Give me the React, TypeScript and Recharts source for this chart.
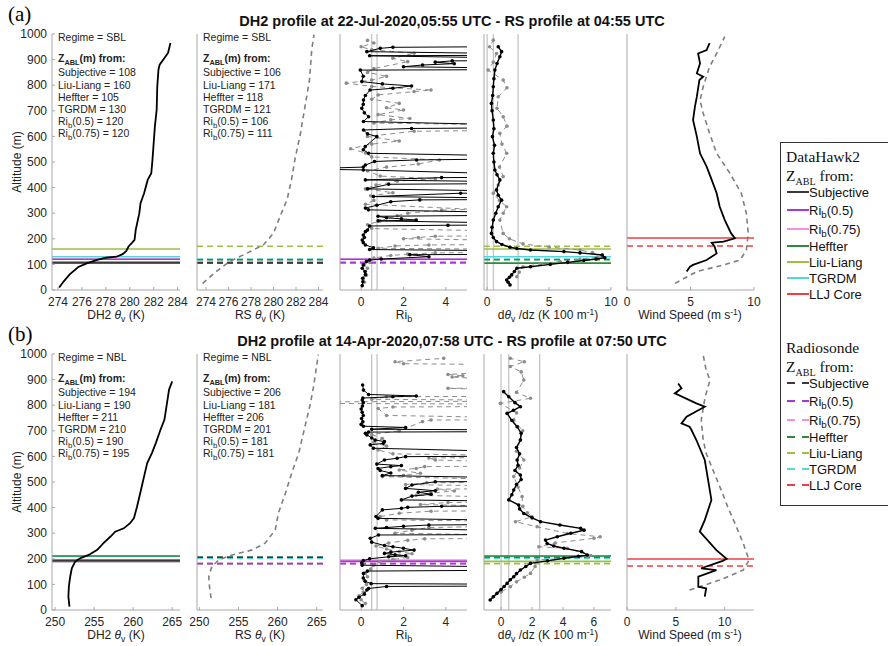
import React from "react";
import { ScatterChart, Scatter, XAxis, YAxis, ReferenceLine } from "recharts";

type Pt = [number, number]; // [value, altitude m]

const altTicks = [0, 100, 200, 300, 400, 500, 600, 700, 800, 900, 1000];
const methods = ["Subjective", "Liu-Liang", "Heffter", "TGRDM", "Rib(0.5)", "Rib(0.75)"];

// ---------- (a) 22-Jul-2020 ----------
const dh2ThetaA: Pt[] = [
  [274.1, 10], [274.5, 35], [275.0, 62], [275.7, 90], [276.4, 104], [277.2, 117], [278.0, 126],
  [278.9, 130], [279.4, 140], [279.7, 152], [279.9, 170], [280.2, 185], [280.4, 196], [280.5, 235],
  [280.8, 300], [280.9, 339], [281.2, 378], [281.5, 430], [281.8, 456], [281.9, 509], [282.0, 574],
  [282.1, 639], [282.25, 704], [282.3, 795], [282.4, 861], [282.5, 880], [282.9, 906], [283.2, 926],
  [283.4, 965],
];
const rsThetaA: Pt[] = [
  [273.7, 26], [274.9, 72], [276.1, 111], [277.6, 143], [279.1, 176], [280.0, 222], [280.7, 300],
  [281.2, 352], [281.6, 430], [281.9, 509], [282.4, 613], [282.8, 717], [283.2, 821], [283.4, 939],
  [283.6, 998],
];
const dh2RibA: Pt[] = [
  [0.05, 17], [0.08, 32], [0.07, 46], [0.2, 60], [0.18, 72], [0.05, 85], [0.1, 98], [0.25, 111],
  [0.4, 117], [0.95, 121], [3.2, 130], [2.3, 138], [12, 140], [12, 150], [0.4, 158], [0.58, 165],
  [0.2, 176], [0.1, 185], [0.05, 195], [0.15, 205], [0.1, 215], [0.2, 228], [0.3, 234], [0.4, 250],
  [4.1, 253], [12, 255], [0.8, 270], [2.6, 273], [1.9, 278], [1.2, 282], [0.8, 288], [12, 295],
  [0.34, 313], [0.2, 320], [0.74, 331], [1.4, 345], [2.77, 352], [12, 355], [0.58, 365], [4.7, 378],
  [12, 380], [0.3, 395], [1.3, 413], [12, 418], [0.2, 430], [3.8, 439], [12, 442], [0.1, 469],
  [-3, 473], [0.1, 480], [0.2, 488], [0.63, 502], [2.62, 508], [12, 517], [0.35, 534], [0.1, 548],
  [0.19, 560], [0.74, 599], [0.3, 610], [0.11, 625], [2.38, 631], [12, 636], [0.11, 658], [0.35, 677],
  [0.15, 692], [0.03, 710], [0.1, 725], [0.11, 742], [0.2, 760], [0.42, 781], [1.5, 788], [2.38, 797],
  [1.0, 805], [0.03, 814], [0.1, 835], [-0.04, 859], [12, 862], [2.0, 872], [2.9, 879], [4.4, 884],
  [3.5, 890], [4.3, 895], [12, 900], [0.4, 915], [12, 918], [0.27, 931], [0.9, 944], [1.5, 948],
  [12, 953],
];
const rsRibA: Pt[] = [
  [0.15, 30], [0.1, 45], [0.25, 58], [0.2, 72], [0.3, 85], [0.15, 98], [0.4, 108], [0.6, 125],
  [1.4, 135], [2.2, 140], [3.5, 145], [12, 150], [12, 156], [0.8, 163], [1.6, 172], [3.2, 176],
  [12, 180], [12, 188], [2.0, 200], [2.7, 205], [3.5, 210], [12, 215], [12, 222], [0.5, 240],
  [0.3, 255], [0.9, 270], [1.7, 290], [2.2, 300], [3.8, 312], [5.3, 315], [0.2, 335], [0.6, 350],
  [0.45, 368], [1.5, 380], [0.2, 395], [0.7, 410], [1.7, 425], [3.5, 435], [0.9, 445], [0.3, 465],
  [1.2, 480], [2.7, 492], [3.7, 508], [0.5, 520], [0.2, 535], [-0.5, 552], [0.5, 570], [1.8, 582],
  [0.3, 600], [2.5, 620], [12, 628], [12, 640], [0.6, 652], [1.4, 665], [2.3, 670], [0.8, 685],
  [2.0, 703], [1.2, 712], [1.8, 729], [0.5, 745], [0.8, 762], [2.5, 775], [3.3, 781], [0.5, 795],
  [-0.7, 808], [0.5, 820], [1.2, 835], [0.3, 850], [0.6, 865], [2.2, 892], [1.5, 905], [2.5, 925],
  [0.5, 938], [0.0, 950], [0.6, 965], [0.3, 975],
];
const dh2GradA: Pt[] = [
  [1.85, 20], [1.7, 30], [1.58, 39], [1.8, 50], [1.98, 59], [2.2, 72], [2.4, 85], [3.5, 91], [5.1, 100],
  [6.5, 108], [7.8, 115], [8.8, 121], [9.5, 126], [9.3, 137], [7.5, 145], [6.2, 150], [3.5, 156],
  [2.4, 162], [1.85, 167], [1.2, 178], [0.76, 189], [0.5, 205], [0.35, 221], [0.4, 245], [0.5, 273],
  [0.7, 300], [0.9, 325], [1.17, 351], [0.9, 370], [0.76, 391], [1.03, 430], [0.8, 450], [0.63, 469],
  [0.55, 500], [0.5, 534], [0.6, 565], [0.43, 599], [0.55, 630], [0.5, 664], [0.4, 700], [0.35, 729],
  [0.45, 760], [0.5, 794], [0.55, 825], [0.63, 859], [0.8, 885], [1.03, 911], [1.17, 931], [0.9, 950],
];
const rsGradA: Pt[] = [
  [2.4, 52], [2.6, 70], [2.9, 91], [4.3, 102], [5.9, 111], [7.5, 120], [8.9, 128], [9.3, 135],
  [8.5, 146], [7.5, 156], [5.0, 168], [2.9, 180], [1.8, 200], [1.3, 221], [1.03, 273], [1.3, 300],
  [1.58, 325], [1.0, 350], [0.5, 378], [0.9, 410], [1.3, 443], [1.0, 480], [1.58, 534], [1.2, 570],
  [1.03, 612], [1.6, 640], [1.3, 677], [0.8, 710], [0.9, 755], [1.6, 790], [1.3, 820], [0.08, 859],
  [0.5, 890], [0.76, 924], [0.2, 950], [0.5, 976],
];
const dh2WindA: Pt[] = [
  [4.7, 72], [4.96, 91], [5.2, 98], [6.27, 117], [7.06, 143], [6.9, 169], [6.67, 185], [7.6, 189],
  [8.5, 202], [8.2, 221], [7.7, 273], [7.3, 325], [7.06, 378], [6.67, 430], [6.27, 482], [5.75, 534],
  [5.5, 599], [5.2, 664], [5.35, 716], [5.5, 755], [5.7, 820], [6.0, 833], [5.5, 846], [5.75, 885],
  [5.6, 924], [6.27, 937], [6.5, 964],
];
const rsWindA: Pt[] = [
  [3.78, 26], [5.5, 72], [7.6, 98], [8.9, 117], [9.4, 156], [9.55, 221], [9.4, 299], [9.0, 378],
  [8.1, 456], [7.06, 534], [6.5, 612], [6.0, 690], [5.75, 742], [6.0, 794], [6.5, 872], [7.06, 924],
  [7.7, 990],
];
const dh2ZablA = [108, 160, 105, 130, 120, 120];
const rsZablA = [106, 171, 118, 121, 106, 111];
const lljA = [203, 172];

// ---------- (b) 14-Apr-2020 ----------
const dh2ThetaB: Pt[] = [
  [251.84, 13], [251.7, 52], [251.76, 91], [251.93, 130], [252.14, 163], [252.57, 189], [253.2, 202],
  [254.3, 215], [255.4, 235], [256.2, 261], [257.1, 287], [257.7, 306], [258.8, 319], [259.6, 339],
  [260.1, 359], [260.5, 404], [260.9, 456], [261.4, 522], [261.8, 574], [262.4, 613], [262.9, 652],
  [263.5, 704], [264.0, 743], [264.2, 782], [264.4, 822], [264.6, 861], [265.0, 893],
];
const rsThetaB: Pt[] = [
  [251.5, 46], [251.3, 91], [251.2, 130], [251.6, 170], [252.5, 196], [254.2, 215], [256.8, 235],
  [258.4, 261], [259.7, 313], [260.1, 378], [261.0, 456], [261.8, 535], [262.7, 613], [263.3, 691],
  [264.2, 808], [264.6, 874], [265.2, 998],
];
const dh2RibB: Pt[] = [
  [0.05, 17], [-0.25, 40], [-0.1, 50], [0.15, 62], [0.27, 78], [0.35, 84], [1.2, 92], [12, 95],
  [12, 99], [0.47, 103], [0.19, 112], [0.1, 125], [0.11, 143], [0.3, 152], [12, 158], [12, 164],
  [0.05, 175], [0.03, 185], [0.1, 193], [0.4, 200], [1.3, 208], [2.1, 212], [1.6, 216], [1.1, 221],
  [1.4, 226], [2.5, 234], [2.0, 241], [1.5, 247], [1.1, 252], [0.5, 265], [0.43, 280], [0.82, 293],
  [12, 296], [12, 304], [0.67, 319], [1.2, 322], [2.0, 327], [3.2, 332], [12, 337], [12, 344],
  [0.8, 358], [0.7, 365], [1.0, 391], [1.9, 397], [2.2, 401], [3.8, 405], [12, 410], [12, 420],
  [1.9, 430], [2.4, 445], [3.3, 452], [2.7, 460], [3.5, 466], [2.1, 475], [2.4, 488], [3.5, 501],
  [12, 503], [12, 510], [1.0, 525], [1.4, 535], [0.9, 545], [0.8, 553], [1.4, 560], [1.9, 564],
  [0.74, 570], [1.1, 586], [1.7, 593], [2.1, 599], [12, 603], [12, 609], [0.58, 632], [0.43, 645],
  [1.05, 651], [1.1, 658], [0.66, 664], [0.5, 672], [0.27, 684], [0.2, 690], [0.35, 695], [12, 698],
  [12, 702], [0.5, 706], [2.1, 713], [0.11, 718], [0.0, 725], [0.08, 735], [0.02, 748], [0.1, 760],
  [0.05, 772], [0.0, 785], [0.06, 797], [0.1, 810], [0.05, 820], [0.08, 828], [1.5, 833], [2.6, 836],
  [0.35, 842], [0.11, 859], [0.07, 879],
];
const rsRibB: Pt[] = [
  [0.2, 25], [0.0, 40], [-0.1, 55], [0.1, 70], [0.05, 85], [0.25, 100], [0.15, 115], [0.3, 130],
  [0.2, 145], [0.45, 160], [0.6, 175], [0.9, 188], [1.5, 198], [2.2, 205], [1.4, 212], [2.4, 220],
  [1.8, 228], [1.2, 238], [0.7, 250], [1.3, 262], [2.2, 272], [3.0, 278], [12, 281], [12, 286],
  [1.6, 300], [2.4, 312], [3.2, 322], [12, 336], [12, 342], [1.2, 352], [0.9, 365], [1.8, 378],
  [3.3, 386], [12, 390], [12, 396], [2.8, 412], [4.1, 420], [12, 426], [12, 432], [2.6, 448],
  [3.3, 457], [4.4, 465], [3.6, 472], [12, 478], [2.1, 490], [3.1, 497], [12, 500], [1.0, 521],
  [2.0, 526], [2.8, 534], [1.8, 547], [2.6, 553], [3.0, 560], [12, 565], [3.5, 586], [3.2, 594],
  [12, 598], [1.5, 610], [0.8, 625], [1.2, 640], [0.6, 655], [1.0, 670], [0.5, 685], [1.8, 700],
  [2.9, 736], [3.3, 742], [12, 745], [1.2, 760], [0.8, 787], [1.5, 793], [12, 797], [12, 803],
  [-2, 807], [-2, 813], [12, 817], [0.5, 823], [1.2, 833], [12, 836], [12, 846], [4.1, 866],
  [12, 870], [4.3, 910], [4.8, 915], [4.1, 920], [12, 955], [2.0, 962], [1.6, 970], [3.9, 983],
];
const dh2GradB: Pt[] = [
  [-0.7, 39], [-0.5, 52], [-0.26, 65], [0.0, 80], [0.2, 92], [0.39, 104], [0.6, 118], [0.82, 130],
  [1.0, 142], [1.25, 156], [1.6, 170], [1.9, 182], [3.0, 192], [4.06, 202], [5.0, 210], [5.57, 215],
  [5.2, 228], [4.06, 241], [3.4, 250], [2.98, 260], [2.87, 273], [3.63, 286], [4.5, 300], [5.36, 312],
  [5.14, 319], [3.8, 332], [2.55, 345], [2.0, 360], [1.47, 377], [1.2, 395], [1.14, 410], [0.5, 430],
  [0.7, 450], [0.82, 469], [1.0, 490], [1.3, 510], [1.25, 527], [0.9, 545], [1.1, 565], [1.04, 586],
  [1.2, 610], [1.0, 635], [1.25, 664], [1.3, 690], [1.04, 716], [0.7, 740], [0.39, 768], [0.8, 780],
  [1.25, 794], [0.9, 810], [0.5, 833], [0.17, 853],
];
const rsGradB: Pt[] = [
  [-0.48, 52], [0.0, 70], [0.6, 91], [1.0, 110], [1.5, 128], [1.9, 143], [2.2, 170], [2.33, 195],
  [5.57, 208], [5.8, 213], [4.28, 241], [2.44, 247], [3.5, 262], [6.0, 280], [6.4, 286], [4.28, 299],
  [2.33, 325], [0.93, 345], [2.0, 364], [1.7, 380], [1.4, 405], [1.36, 443], [1.1, 480], [0.82, 521],
  [1.2, 555], [1.47, 586], [1.0, 620], [1.25, 664], [1.4, 700], [0.82, 742], [1.0, 770], [-0.04, 807],
  [1.9, 827], [1.0, 850], [1.47, 898], [1.3, 930], [0.6, 951], [1.5, 970], [0.6, 983],
];
const dh2WindB: Pt[] = [
  [7.96, 52], [8.1, 84], [7.3, 91], [7.3, 130], [9.15, 156], [7.6, 163], [9.8, 192], [10.2, 200],
  [9.15, 234], [7.45, 306], [7.96, 351], [8.64, 430], [8.3, 508], [7.96, 586], [7.1, 664], [6.6, 703],
  [6.4, 716], [5.58, 729], [6.1, 755], [7.96, 794], [7.1, 807], [4.9, 846], [5.58, 866], [5.24, 885],
];
const rsWindB: Pt[] = [
  [6.4, 78], [9.5, 117], [11.9, 156], [12.5, 195], [11.9, 260], [11.2, 325], [10.3, 404], [9.5, 482],
  [8.8, 547], [8.1, 612], [7.8, 664], [7.6, 742], [8.0, 833], [8.5, 898], [8.1, 937], [7.8, 996],
];
const dh2ZablB = [194, 190, 211, 210, 190, 195];
const rsZablB = [206, 181, 206, 201, 181, 181];
const lljB = [199, 172];

const colors: Record<string, string> = {
  Subjective: "#3a3a3a",
  "Rib(0.5)": "#a23bd6",
  "Rib(0.75)": "#f392dc",
  Heffter: "#2e8b3e",
  "Liu-Liang": "#9cbf45",
  TGRDM: "#56d6d9",
  "LLJ Core": "#ef3e3e",
};

const FONT = "'Liberation Sans', Arial, Helvetica, sans-serif";
const SERIF = "'Liberation Serif', 'Times New Roman', serif";
const AXIS = "#a8a8a8";

type Curve = { data: Pt[]; color: string; dashed?: boolean; dots?: boolean; width?: number };
type HLine = { y: number; color: string; dashed?: boolean };

const noDot = () => <g />;
const makeDot = (c: string) => (p: any) => <circle cx={p.cx} cy={p.cy} r={1.8} fill={c} />;

// sub/superscripts that do not grow the line box
const Sub = ({ children, s = 0.72 }: { children: React.ReactNode; s?: number }) => (
  <span style={{ fontSize: `${s}em`, position: "relative", top: "0.35em", lineHeight: 0 }}>{children}</span>
);
const Sup = ({ children }: { children: React.ReactNode }) => (
  <span style={{ fontSize: "0.7em", position: "relative", top: "-0.45em", lineHeight: 0 }}>{children}</span>
);

function Panel({ x0, y0, w, domain, xTicks, curves, hlines, vlines = [], yLabels = false }: {
  x0: number; y0: number; w: number; domain: [number, number]; xTicks: number[];
  curves: Curve[]; hlines: HLine[]; vlines?: number[]; yLabels?: boolean;
}) {
  const padL = 40, padT = 8, padR = 12, padB = 24;
  return (
    <div style={{ position: "absolute", left: x0 - padL, top: y0 - padT }}>
      <ScatterChart width={w + padL + padR} height={256 + padT + padB}
        margin={{ top: padT, right: padR, left: 0, bottom: 0 }}>
        <XAxis type="number" dataKey="x" domain={domain} ticks={xTicks} allowDataOverflow interval={0}
          height={padB} stroke={AXIS} tickSize={-3} tickMargin={10}
          tick={{ fill: "#262626", fontSize: 12, fontFamily: FONT }} />
        <YAxis type="number" dataKey="y" domain={[0, 1000]} ticks={altTicks} allowDataOverflow interval={0}
          width={padL} stroke={AXIS} tickSize={-3} tickMargin={8}
          tick={yLabels ? { fill: "#262626", fontSize: 12, fontFamily: FONT } : false} />
        {vlines.map((v) => (
          <ReferenceLine key={"v" + v} x={v} stroke="#b4b4b4" strokeWidth={1} />
        ))}
        {curves.map((c, i) => (
          <Scatter key={i} data={c.data.map(([x, y]) => ({ x, y }))} isAnimationActive={false}
            fill={c.color}
            shape={c.dots ? makeDot(c.color) : noDot}
            line={{ stroke: c.color, strokeWidth: c.width ?? 1.2, strokeDasharray: c.dashed ? "5 4" : undefined }} />
        ))}
        {hlines.map((h, i) => (
          <ReferenceLine key={"h" + i} y={h.y} stroke={h.color} strokeWidth={1.6}
            strokeDasharray={h.dashed ? "6 4" : undefined} />
        ))}
      </ScatterChart>
    </div>
  );
}

const Rib = () => <>Ri<Sub s={0.75}>b</Sub></>;
const label = (m: string) =>
  m === "Rib(0.5)" ? <><Rib />(0.5)</> : m === "Rib(0.75)" ? <><Rib />(0.75)</> : m;

function Notes({ x, top, regime, vals }: { x: number; top: number; regime: string; vals: number[] }) {
  const s: React.CSSProperties = { position: "absolute", left: x, fontSize: 10.5, fontFamily: FONT, color: "#222", whiteSpace: "nowrap", lineHeight: "11px" };
  const ys = [73, 86, 98, 110, 122, 134];
  return (
    <>
      <div style={{ ...s, top: top + 32 }}>Regime = {regime}</div>
      <div style={{ ...s, top: top + 53, fontWeight: "bold" }}>Z<Sub s={0.7}>ABL</Sub>(m) from:</div>
      {methods.map((m, i) => (
        <div key={m} style={{ ...s, top: top + ys[i] - 6 }}>{label(m)} = {vals[i]}</div>
      ))}
    </>
  );
}

function Row({ top, letter, title, regime, thetaDh2, thetaRs, thDomDh2, thDomRs, thTicks, ribDh2, ribRs,
  gradDh2, gradRs, gradDom, gradTicks, windDh2, windRs, windDom, zDh2, zRs, llj }: any) {
  const y0 = top + 34;
  const pick = (vals: number[], names: string[], dashed: boolean): HLine[] =>
    names.map((n) => ({ y: vals[methods.indexOf(n)], color: colors[n], dashed }));
  const order = ["Liu-Liang", "TGRDM", "Rib(0.75)", "Rib(0.5)", "Heffter", "Subjective"];
  const txt: React.CSSProperties = { position: "absolute", fontFamily: FONT, fontSize: 12, color: "#222", whiteSpace: "nowrap", transform: "translateX(-50%)", lineHeight: "14px" };
  const th = <i>θ</i>;
  const ly = top + 308;
  return (
    <>
      <div style={{ position: "absolute", left: 8, top: top + 2, fontFamily: SERIF, fontSize: 21 }}>({letter})</div>
      <div style={{ ...txt, left: 452, top: top + 14, fontWeight: "bold", fontSize: 14.5, color: "#111" }}>{title}</div>
      <Panel x0={52} y0={y0} w={128} domain={thDomDh2} xTicks={thTicks} yLabels
        curves={[{ data: thetaDh2, color: "#000", width: 1.8 }]}
        hlines={pick(zDh2, order, false)} />
      <Panel x0={197} y0={y0} w={126} domain={thDomRs} xTicks={thTicks}
        curves={[{ data: thetaRs, color: "#7f7f7f", dashed: true, width: 1.6 }]}
        hlines={pick(zRs, order, true)} />
      <Panel x0={340} y0={y0} w={127} domain={[-1, 5]} xTicks={[0, 2, 4]} vlines={[0.5, 0.75]}
        curves={[{ data: ribRs, color: "#8c8c8c", dashed: true, dots: true, width: 1 },
          { data: ribDh2, color: "#000", dots: true, width: 1 }]}
        hlines={[...pick(zDh2, ["Rib(0.75)", "Rib(0.5)"], false), ...pick(zRs, ["Rib(0.75)", "Rib(0.5)"], true)]} />
      <Panel x0={484} y0={y0} w={127} domain={gradDom} xTicks={gradTicks} vlines={[0, 0.5, 2.5]}
        curves={[{ data: gradRs, color: "#8c8c8c", dashed: true, dots: true, width: 1 },
          { data: gradDh2, color: "#000", dots: true, width: 1.4 }]}
        hlines={[...pick(zDh2, ["Liu-Liang", "TGRDM", "Heffter"], false), ...pick(zRs, ["Liu-Liang", "TGRDM", "Heffter"], true)]} />
      <Panel x0={627} y0={y0} w={127} domain={windDom} xTicks={[0, 5, 10]}
        curves={[{ data: windRs, color: "#7f7f7f", dashed: true, width: 1.6 }, { data: windDh2, color: "#000", width: 1.8 }]}
        hlines={[{ y: llj[0], color: colors["LLJ Core"] }, { y: llj[1], color: colors["LLJ Core"], dashed: true }]} />
      <Notes x={58} top={top} regime={regime} vals={zDh2} />
      <Notes x={203} top={top} regime={regime} vals={zRs} />
      <div style={{ ...txt, left: 17, top: top + 155, transform: "translateX(-50%) rotate(-90deg)" }}>Altitude (m)</div>
      <div style={{ ...txt, left: 116, top: ly }}>DH2 {th}<Sub>v</Sub> (K)</div>
      <div style={{ ...txt, left: 260, top: ly }}>RS {th}<Sub>v</Sub> (K)</div>
      <div style={{ ...txt, left: 404, top: ly }}><Rib /></div>
      <div style={{ ...txt, left: 548, top: ly }}>d{th}<Sub>v</Sub> /dz (K 100 m<Sup>-1</Sup>)</div>
      <div style={{ ...txt, left: 690, top: ly }}>Wind Speed (m s<Sup>-1</Sup>)</div>
    </>
  );
}

const legendItems = ["Subjective", "Rib(0.5)", "Rib(0.75)", "Heffter", "Liu-Liang", "TGRDM", "LLJ Core"];
const legendYs = [0, 18, 37, 54, 70, 86, 102];

function LegendBlock({ top, head, dashed }: { top: number; head: string; dashed: boolean }) {
  const serif: React.CSSProperties = { position: "absolute", left: 786, fontFamily: SERIF, fontSize: 15.5, color: "#111", whiteSpace: "nowrap", lineHeight: "18px" };
  return (
    <>
      <div style={{ ...serif, top: top - 9 }}>{head}</div>
      <div style={{ ...serif, top: top + 10 }}>Z<Sub s={0.65}>ABL</Sub> from:</div>
      {legendItems.map((m, i) => {
        const y = top + 35 + legendYs[i];
        return (
          <div key={m} style={{ position: "absolute", left: 787, top: y - 8, height: 16, display: "flex", alignItems: "center", whiteSpace: "nowrap", fontFamily: FONT, fontSize: 13, color: "#111" }}>
            <svg width={22} height={4} style={{ display: "block" }}>
              <line x1={0} y1={2} x2={22} y2={2} stroke={colors[m]} strokeWidth={2}
                strokeDasharray={dashed ? "8 7 7" : undefined} />
            </svg>
            <span>{label(m)}</span>
          </div>
        );
      })}
    </>
  );
}

export default function App() {
  return (
    <div style={{ position: "relative", width: 888, height: 646, overflow: "hidden", background: "#fff" }}>
      <style>{"body{margin:0}"}</style>
      <Row top={0} letter="a" title="DH2 profile at 22-Jul-2020,05:55 UTC - RS profile at 04:55 UTC" regime="SBL"
        thetaDh2={dh2ThetaA} thetaRs={rsThetaA} thDomDh2={[273.5, 284.2]} thDomRs={[273.2, 284.4]}
        thTicks={[274, 276, 278, 280, 282, 284]} ribDh2={dh2RibA} ribRs={rsRibA}
        gradDh2={dh2GradA} gradRs={rsGradA} gradDom={[-0.25, 10]} gradTicks={[0, 5, 10]}
        windDh2={dh2WindA} windRs={rsWindA} windDom={[0, 10]} zDh2={dh2ZablA} zRs={rsZablA} llj={lljA} />
      <Row top={320} letter="b" title="DH2 profile at 14-Apr-2020,07:58 UTC - RS profile at 07:50 UTC" regime="NBL"
        thetaDh2={dh2ThetaB} thetaRs={rsThetaB} thDomDh2={[249.6, 266]} thDomRs={[249.7, 265.8]}
        thTicks={[250, 255, 260, 265]} ribDh2={dh2RibB} ribRs={rsRibB}
        gradDh2={dh2GradB} gradRs={rsGradB} gradDom={[-1.1, 7.1]} gradTicks={[0, 2, 4, 6]}
        windDh2={dh2WindB} windRs={rsWindB} windDom={[0, 13]} zDh2={dh2ZablB} zRs={rsZablB} llj={lljB} />
      <div style={{ position: "absolute", left: 780, top: 142, width: 130, height: 362, border: "1px solid #333", background: "#fff" }} />
      <LegendBlock top={157} head="DataHawk2" dashed={false} />
      <LegendBlock top={348} head="Radiosonde" dashed />
    </div>
  );
}
